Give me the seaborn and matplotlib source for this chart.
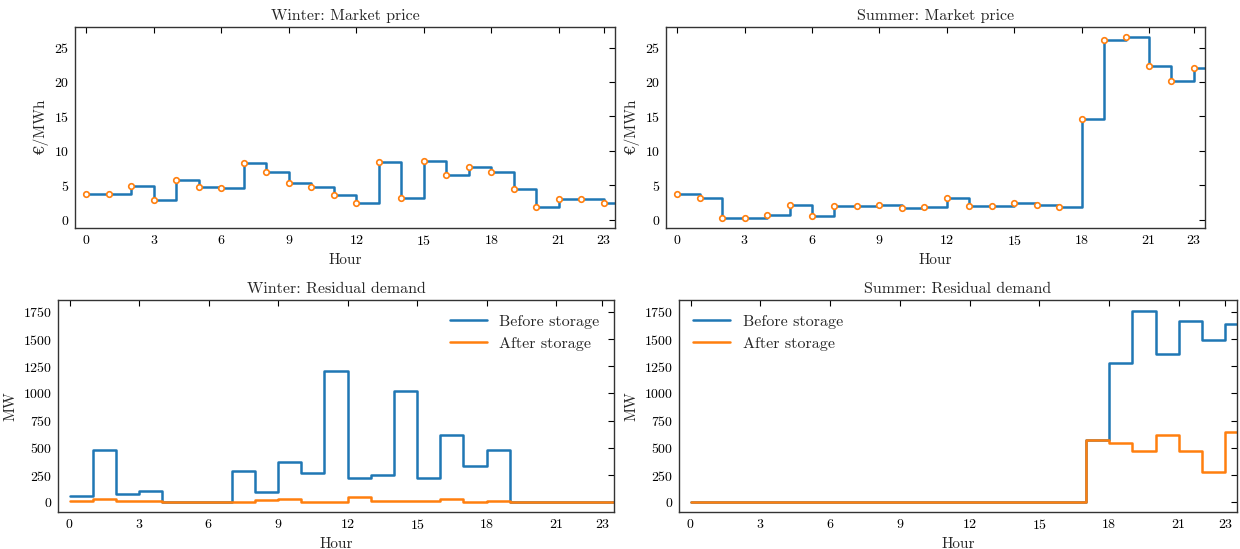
import numpy as np
import pandas as pd
import matplotlib
matplotlib.use("Agg")
import matplotlib.pyplot as plt
import seaborn as sns

hours = list(range(24))
winter_price = [3.8, 3.7, 4.9, 2.9, 5.8, 4.7, 4.6, 8.2, 7.0, 5.4, 4.7, 3.6,
                2.4, 8.4, 3.2, 8.5, 6.5, 7.7, 7.0, 4.4, 1.9, 3.0, 3.0, 2.5]
summer_price = [3.7, 3.2, 0.2, 0.3, 0.7, 2.1, 0.5, 2.0, 2.0, 2.2, 1.7, 1.9,
                3.1, 2.0, 2.0, 2.4, 2.2, 1.9, 14.6, 26.1, 26.5, 22.4, 20.2, 22.1]
winter_before = [60, 480, 80, 100, 0, 0, 0, 290, 90, 370, 270, 1210,
                 220, 250, 1020, 220, 620, 330, 480, 0, 0, 0, 0, 0]
winter_after = [10, 25, 10, 15, 0, 0, 0, 5, 20, 30, 0, 0,
                50, 10, 15, 15, 30, 5, 10, 0, 0, 0, 0, 0]
summer_before = [0] * 17 + [570, 1280, 1760, 1360, 1670, 1490, 1640]
summer_after = [0] * 17 + [570, 540, 470, 620, 470, 280, 650]
xticks = [0, 3, 6, 9, 12, 15, 18, 21, 23]

sns.set_style("white")
plt.rcParams["font.family"] = ["cmr10", "DejaVu Serif"]
plt.rcParams["axes.formatter.use_mathtext"] = True
plt.rcParams["axes.unicode_minus"] = False
plt.rcParams["font.size"] = 10
plt.rcParams["mathtext.fontset"] = "cm"

BLUE = "#1f77b4"
ORANGE = "#ff7f0e"

fig = plt.figure(figsize=(12.4, 5.49), dpi=100)
ax_tl = fig.add_axes([0.0605, 0.5847, 0.4355, 0.3661])
ax_tr = fig.add_axes([0.5371, 0.5847, 0.4347, 0.3661])
ax_bl = fig.add_axes([0.0468, 0.0674, 0.4484, 0.3862])
ax_br = fig.add_axes([0.5476, 0.0674, 0.4500, 0.3862])


def ext(vals):
    return pd.DataFrame({"hour": hours + [24], "val": list(vals) + [vals[-1]]})


def style(ax):
    ax.set_xlim(-0.5, 23.5)
    ax.set_xticks(xticks)
    ax.tick_params(direction="in", top=True, right=True, length=4, width=0.8,
                   labelsize=10, colors="black", pad=4)
    for s in ax.spines.values():
        s.set_color("#333333")
        s.set_linewidth(1.0)
    ax.set_xlabel("Hour", fontsize=11)


for ax, vals, title in [(ax_tl, winter_price, "Winter: Market price"),
                        (ax_tr, summer_price, "Summer: Market price")]:
    sns.lineplot(data=ext(vals), x="hour", y="val", drawstyle="steps-post",
                 color=BLUE, linewidth=1.8, ax=ax)
    sns.scatterplot(x=hours, y=vals, ax=ax, marker="o", s=16, facecolor="white",
                    edgecolor=ORANGE, linewidth=1.2, zorder=3)
    ax.set_ylim(-1.2, 28)
    ax.set_yticks([0, 5, 10, 15, 20, 25])
    ax.set_title(title, fontsize=11.5, pad=5)
    style(ax)
    ax.set_ylabel("€/MWh", fontsize=11)

for ax, before, after, title, loc in [
        (ax_bl, winter_before, winter_after, "Winter: Residual demand", "upper right"),
        (ax_br, summer_before, summer_after, "Summer: Residual demand", "upper left")]:
    sns.lineplot(data=ext(before), x="hour", y="val", drawstyle="steps-post",
                 color=BLUE, linewidth=1.8, ax=ax, label="Before storage")
    sns.lineplot(data=ext(after), x="hour", y="val", drawstyle="steps-post",
                 color=ORANGE, linewidth=1.8, ax=ax, label="After storage")
    ax.set_ylim(-90, 1860)
    ax.set_yticks([0, 250, 500, 750, 1000, 1250, 1500, 1750])
    ax.set_title(title, fontsize=11.5, pad=5)
    style(ax)
    ax.set_ylabel("MW", fontsize=11)
    ax.legend(loc=loc, frameon=False, fontsize=11.5, handlelength=2.3)

fig.savefig("out.png", dpi=100)
